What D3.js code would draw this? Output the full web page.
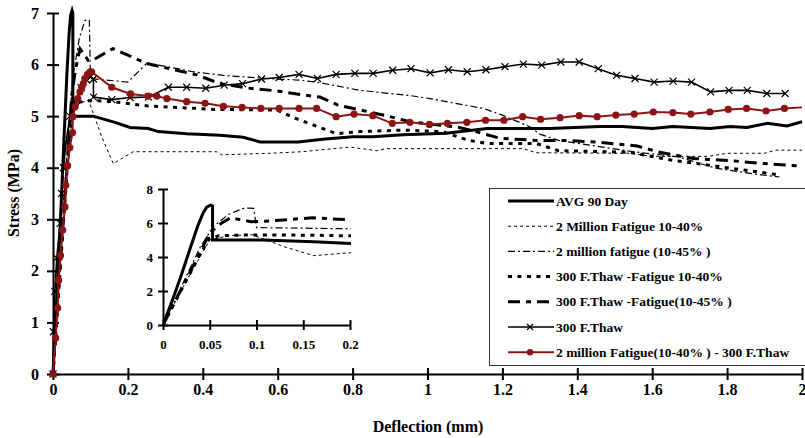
<!DOCTYPE html>
<html>
<head>
<meta charset="utf-8">
<script src="https://cdn.jsdelivr.net/npm/d3@7"></script>
<style>
  body { margin: 0; background: #fff; }
  text { font-family: "Liberation Serif", "Times New Roman", serif; font-weight: bold; fill: #000; }
</style>
</head>
<body>
<svg width="805" height="438"></svg>
<script>
// data: [deflection (mm), stress (MPa)]
const avg90Day = [[0,0],[0.011,1.6],[0.02,3.0],[0.029,4.5],[0.037,5.8],[0.043,6.6],[0.047,6.95],[0.051,7.05],[0.053,7.0],[0.053,5.0],
  [0.107,5.0],[0.161,4.89],[0.206,4.78],[0.254,4.76],[0.281,4.7],[0.357,4.66],[0.446,4.63],[0.508,4.59],[0.553,4.5],[0.655,4.5],
  [0.72,4.55],[0.8,4.6],[0.854,4.6],[0.935,4.64],[1.05,4.67],[1.159,4.76],[1.327,4.76],[1.46,4.8],[1.52,4.8],[1.6,4.76],
  [1.655,4.8],[1.754,4.76],[1.808,4.8],[1.853,4.78],[1.907,4.86],[1.96,4.81],[2.0,4.89]]

const fatigue2M_1040 = [[0,0],[0.025,2.6],[0.05,5.0],[0.07,5.25],[0.095,5.31],[0.13,4.6],[0.161,4.08],[0.214,4.31],[0.437,4.31],
  [0.45,4.25],[0.58,4.28],[0.664,4.31],[0.793,4.4],[0.864,4.33],[0.89,4.37],[1.256,4.37],[1.29,4.29],[1.54,4.28],[1.6,4.22],
  [1.75,4.22],[1.8,4.28],[1.9,4.28],[1.93,4.34],[2.0,4.34]]

const fatigue2M_1045 = [[0,0],[0.02,2.3],[0.04,4.6],[0.054,5.8],[0.07,6.5],[0.085,6.85],[0.092,6.88],[0.097,6.86],[0.1,5.73],
  [0.2,5.66],[0.251,6.03],[0.304,5.96],[0.375,5.86],[0.455,5.79],[0.57,5.73],[0.655,5.7],[0.704,5.66],[0.82,5.5],[0.953,5.4],
  [1.007,5.34],[1.149,5.15],[1.2,5.02],[1.274,4.79],[1.3,4.65],[1.35,4.53],[1.45,4.42],[1.55,4.31],[1.67,4.21],[1.77,3.99],
  [1.87,3.88],[1.94,3.82]]

const thawFatigue_1040 = [[0,0],[0.02,2.1],[0.04,4.2],[0.05,5.1],[0.06,5.25],[0.09,5.3],[0.12,5.3],[0.16,5.28],[0.25,5.2],
  [0.384,5.15],[0.43,5.13],[0.597,5.12],[0.65,4.95],[0.757,4.66],[0.82,4.7],[0.935,4.73],[1.04,4.7],[1.11,4.53],[1.16,4.47],
  [1.29,4.47],[1.35,4.33],[1.54,4.3],[1.65,4.15],[1.75,4.05],[1.85,3.95],[1.94,3.86]]

const thawFatigue_1045 = [[0,0],[0.025,2.7],[0.05,5.4],[0.06,5.9],[0.072,6.31],[0.094,6.08],[0.11,6.1],[0.16,6.31],[0.25,6.02],
  [0.384,5.8],[0.446,5.63],[0.526,5.54],[0.597,5.49],[0.668,5.41],[0.713,5.37],[0.762,5.21],[0.82,5.12],[0.895,5.0],[0.953,4.89],
  [1.078,4.79],[1.113,4.73],[1.194,4.57],[1.29,4.53],[1.36,4.53],[1.45,4.5],[1.56,4.42],[1.62,4.3],[1.71,4.18],[1.82,4.13],
  [1.9,4.08],[2.0,4.03]]

const thaw300 = [[0,0],[0.001,0.82],[0.005,1.6],[0.01,2.25],[0.019,2.92],[0.023,3.5],[0.028,4.0],[0.035,4.5],[0.045,5.0],
  [0.06,5.3],[0.075,5.55],[0.09,5.7],[0.1,5.76],[0.108,5.72],[0.108,5.37],[0.157,5.32],[0.206,5.36],[0.255,5.37],[0.308,5.56],
  [0.357,5.56],[0.408,5.54],[0.457,5.6],[0.506,5.63],[0.557,5.72],[0.604,5.75],[0.657,5.81],[0.706,5.73],[0.756,5.81],
  [0.806,5.83],[0.855,5.83],[0.907,5.89],[0.956,5.92],[1.007,5.84],[1.056,5.9],[1.106,5.86],[1.156,5.9],[1.207,5.96],
  [1.256,6.01],[1.305,5.99],[1.356,6.05],[1.405,6.05],[1.456,5.92],[1.505,5.79],[1.554,5.73],[1.605,5.66],[1.656,5.68],
  [1.705,5.66],[1.756,5.47],[1.805,5.5],[1.854,5.5],[1.906,5.44],[1.955,5.44]]

const fatigueThaw = [[0,0],[0.007,0.7],[0.0125,1.28],[0.015,1.82],[0.02,2.3],[0.026,2.79],[0.032,3.24],[0.034,3.66],[0.039,4.04],
  [0.045,4.39],[0.052,4.68],[0.053,4.99],[0.059,5.18],[0.066,5.34],[0.072,5.47],[0.077,5.56],[0.081,5.63],[0.085,5.73],
  [0.092,5.81],[0.099,5.86],[0.103,5.86],[0.157,5.56],[0.207,5.43],[0.254,5.39],[0.277,5.39],[0.304,5.34],[0.357,5.28],
  [0.406,5.25],[0.455,5.19],[0.505,5.17],[0.555,5.15],[0.604,5.15],[0.657,5.15],[0.704,5.15],[0.756,4.99],[0.804,5.04],
  [0.854,5.01],[0.906,4.86],[0.953,4.88],[1.005,4.84],[1.053,4.86],[1.105,4.88],[1.155,4.92],[1.204,4.92],[1.254,4.99],
  [1.302,4.94],[1.354,4.97],[1.405,5.01],[1.453,4.99],[1.503,5.02],[1.552,5.04],[1.603,5.08],[1.655,5.07],[1.703,5.04],
  [1.754,5.08],[1.803,5.13],[1.852,5.15],[1.904,5.10],[1.953,5.15],[2.0,5.17]]

const xTicks = [0, 0.2, 0.4, 0.6, 0.8, 1, 1.2, 1.4, 1.6, 1.8, 2]
const yTicks = [0, 1, 2, 3, 4, 5, 6, 7]
const insetXTicks = [0, 0.05, 0.1, 0.15, 0.2]
const insetYTicks = [0, 2, 4, 6, 8]

const series = [
  { name: 'AVG 90 Day', data: avg90Day, color: '#000', width: 3, dash: null, inset: true },
  { name: '2 Million Fatigue 10-40%', data: fatigue2M_1040, color: '#000', width: 1, dash: '3,3', inset: true },
  { name: '2 million fatigue (10-45% )', data: fatigue2M_1045, color: '#000', width: 1.2, dash: '7,3,2,3', inset: true },
  { name: '300 F.Thaw -Fatigue 10-40%', data: thawFatigue_1040, color: '#000', width: 3, dash: '4,5.5', inset: true },
  { name: '300 F.Thaw -Fatigue(10-45% )', data: thawFatigue_1045, color: '#000', width: 3, dash: '12,6,5,6', inset: true },
  { name: '300 F.Thaw', data: thaw300, color: '#000', width: 1.6, dash: null, marker: 'x' },
  { name: '2 million Fatigue(10-40% ) - 300 F.Thaw', data: fatigueThaw, color: '#8c1414', width: 2, dash: null, marker: 'dot' }
]

const svg = d3.select('svg')

const x = d3.scaleLinear().domain([0, 2]).range([53, 802])
const y = d3.scaleLinear().domain([0, 7]).range([374, 13])

const crossTicks = (g, inner, outer, horizontal) => {
  g.select('.domain').attr('stroke-width', 2)
  g.selectAll('.tick line').attr('stroke-width', 2)
  if (horizontal) g.selectAll('.tick line').attr('y1', -inner).attr('y2', outer)
  else g.selectAll('.tick line').attr('x1', inner).attr('x2', -outer)
}

// main axes
svg.append('g')
    .attr('transform', `translate(0,${y(0)})`)
    .call(d3.axisBottom(x).tickValues(xTicks).tickFormat(d => String(d)).tickSizeOuter(0))
    .call(g => crossTicks(g, 6, 6, true))
    .call(g => g.selectAll('text').attr('y', 10).style('font-size', '16px'))

svg.append('g')
    .attr('transform', `translate(${x(0)},0)`)
    .call(d3.axisLeft(y).tickValues(yTicks).tickFormat(d => String(d)).tickSizeOuter(0))
    .call(g => crossTicks(g, 6, 6, false))
    .call(g => g.selectAll('text').attr('x', -14).style('font-size', '16px'))

svg.append('text')
    .attr('transform', `translate(19,193) rotate(-90)`)
    .attr('text-anchor', 'middle')
    .style('font-size', '16px')
    .text('Stress (MPa)')

svg.append('text')
    .attr('x', 428).attr('y', 432)
    .attr('text-anchor', 'middle')
    .style('font-size', '16px')
    .text('Deflection (mm)')

// draws the given series with the given scales
const drawSeries = (g, list, sx, sy, withMarkers) => {
  const line = d3.line().x(d => sx(d[0])).y(d => sy(d[1]))
  list.forEach(s => {
    g.append('path')
        .attr('d', line(s.data))
        .attr('fill', 'none')
        .attr('stroke', s.color)
        .attr('stroke-width', s.width)
        .attr('stroke-dasharray', s.dash)
    if (!withMarkers || !s.marker) return
    const pts = s.data.filter(d => d[0] <= 1.96)
    if (s.marker === 'dot') {
      g.selectAll(null).data(pts).enter().append('circle')
          .attr('cx', d => sx(d[0])).attr('cy', d => sy(d[1]))
          .attr('r', 3.6).attr('fill', s.color)
    } else {
      g.selectAll(null).data(pts).enter().append('path')
          .attr('d', d => {
            const cx = sx(d[0]), cy = sy(d[1]), r = 3.5
            return `M${cx - r},${cy - r}L${cx + r},${cy + r}M${cx - r},${cy + r}L${cx + r},${cy - r}`
          })
          .attr('stroke', s.color).attr('stroke-width', 1.2)
    }
  })
}

// inset
const xi = d3.scaleLinear().domain([0, 0.2]).range([163, 350])
const yi = d3.scaleLinear().domain([0, 8]).range([325, 189])

svg.append('clipPath').attr('id', 'insetClip')
  .append('rect').attr('x', 163).attr('y', 180).attr('width', 188).attr('height', 146)

svg.append('g')
    .attr('transform', `translate(0,${yi(0)})`)
    .call(d3.axisBottom(xi).tickValues(insetXTicks).tickFormat(d => String(d)).tickSizeOuter(0))
    .call(g => crossTicks(g, 5, 5, true))
    .call(g => g.selectAll('text').attr('y', 15).style('font-size', '13px'))

svg.append('g')
    .attr('transform', `translate(${xi(0)},0)`)
    .call(d3.axisLeft(yi).tickValues(insetYTicks).tickFormat(d => String(d)).tickSizeOuter(0))
    .call(g => crossTicks(g, 5, 5, false))
    .call(g => g.selectAll('text').attr('x', -10).style('font-size', '13px'))

drawSeries(svg.append('g').attr('clip-path', 'url(#insetClip)'), series.filter(s => s.inset), xi, yi, false)

// main plot lines
drawSeries(svg.append('g'), series, x, y, true)

// legend
const legend = svg.append('g')
legend.append('rect')
    .attr('x', 489.5).attr('y', 188.5).attr('width', 330).attr('height', 177)
    .attr('fill', '#fff').attr('stroke', '#333').attr('stroke-width', 1)

series.forEach((s, i) => {
  const ly = 201 + i * 25.2
  const row = legend.append('g')
  row.append('line')
      .attr('x1', 508).attr('x2', 554).attr('y1', ly).attr('y2', ly)
      .attr('stroke', s.color).attr('stroke-width', s.width)
      .attr('stroke-dasharray', s.dash)
  if (s.marker === 'dot') {
    row.append('circle').attr('cx', 530).attr('cy', ly).attr('r', 3.2).attr('fill', s.color)
  } else if (s.marker === 'x') {
    row.append('path').attr('d', `M527,${ly - 3}L533,${ly + 3}M527,${ly + 3}L533,${ly - 3}`)
        .attr('stroke', s.color).attr('stroke-width', 1.2)
  }
  row.append('text')
      .attr('x', 556).attr('y', ly + 4.5)
      .style('font-size', '13.5px')
      .text(s.name)
})
</script>
</body>
</html>
